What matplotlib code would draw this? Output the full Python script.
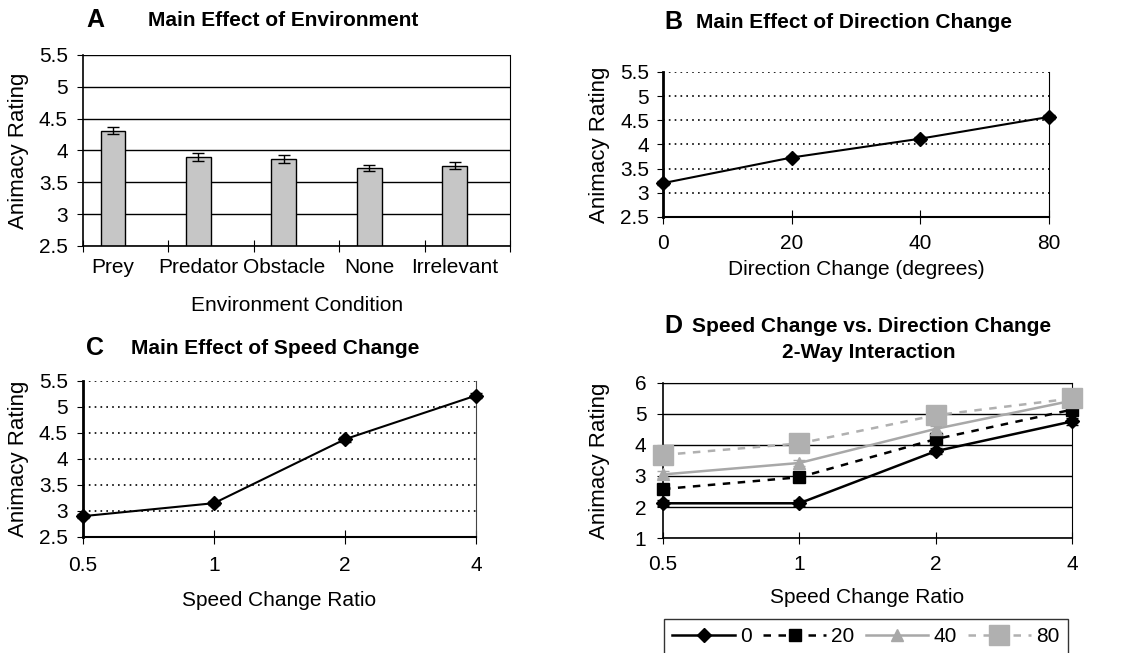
import numpy as np
import matplotlib.pyplot as plt

plt.rcParams['font.family'] = ['Liberation Sans', 'DejaVu Sans']

# panel A data
env_conditions = ['Prey', 'Predator', 'Obstacle', 'None', 'Irrelevant']
env_means = [4.31, 3.90, 3.87, 3.73, 3.76]
env_err = [0.055, 0.06, 0.06, 0.045, 0.055]

# panel B data
dir_labels = ['0', '20', '40', '80']
dir_means = [3.20, 3.73, 4.12, 4.57]
dir_err = [0.04, 0.04, 0.04, 0.04]

# panel C data
speed_labels = ['0.5', '1', '2', '4']
speed_means = [2.90, 3.15, 4.38, 5.22]
speed_err = [0.04, 0.04, 0.05, 0.04]

# panel D data (one series per direction change)
inter_series = ['0', '20', '40', '80']
inter_0 = [2.12, 2.12, 3.80, 4.76]
inter_20 = [2.58, 2.96, 4.19, 5.14]
inter_40 = [3.05, 3.42, 4.52, 5.43]
inter_80 = [3.68, 4.05, 4.96, 5.50]
inter_err = [0.1, 0.1, 0.1, 0.1]

FS = 15

fig = plt.figure(figsize=(11.3, 6.53), dpi=100)

# ---------------- A ----------------
axA = fig.add_axes([0.0735, 0.6233, 0.3779, 0.2925])
xA = np.arange(len(env_conditions)) - 0.15
axA.set_axisbelow(True)
axA.yaxis.grid(True, color='black', linewidth=1.0)
axA.bar(xA, env_means, width=0.29, color='#c6c6c6', edgecolor='black', linewidth=1.0,
        yerr=env_err, capsize=4, error_kw=dict(elinewidth=1, capthick=1))
axA.set_xlim(-0.5, 4.5)
axA.set_ylim(2.5, 5.5)
axA.set_yticks([2.5, 3, 3.5, 4, 4.5, 5, 5.5])
axA.set_yticklabels(['2.5', '3', '3.5', '4', '4.5', '5', '5.5'])
axA.set_xticks(np.arange(-0.5, 5.0, 1.0))
axA.set_xticklabels([])
axA.set_xticks(xA, minor=True)
axA.set_xticklabels(env_conditions, minor=True)
axA.tick_params(axis='x', which='major', direction='inout', length=8)
axA.tick_params(axis='x', which='minor', length=0, pad=9)
axA.tick_params(axis='y', direction='out', length=4, pad=7)
axA.tick_params(which='both', labelsize=FS)
axA.spines['top'].set_visible(False)
axA.spines['left'].set_linewidth(1.2)
axA.spines['bottom'].set_linewidth(1.2)
axA.set_ylabel('Animacy Rating', fontsize=FS + 1, labelpad=7)
axA.set_xlabel('Environment Condition', fontsize=FS, labelpad=13)

# ---------------- B ----------------
axB = fig.add_axes([0.5867, 0.6677, 0.3416, 0.2221])
xB = np.arange(len(dir_labels))
axB.set_axisbelow(True)
axB.yaxis.grid(True, color='black', linestyle=(0, (1, 2.5)), linewidth=1.2)
axB.errorbar(xB, dir_means, yerr=dir_err, color='black', marker='D', markersize=7,
             linewidth=1.5, capsize=4, clip_on=False, zorder=3)
axB.set_xlim(0, 3)
axB.set_ylim(2.5, 5.5)
axB.set_yticks([2.5, 3, 3.5, 4, 4.5, 5, 5.5])
axB.set_yticklabels(['2.5', '3', '3.5', '4', '4.5', '5', '5.5'])
axB.set_xticks(xB)
axB.set_xticklabels(dir_labels)
axB.tick_params(axis='x', direction='inout', length=10, pad=7)
axB.tick_params(axis='y', direction='out', length=4, pad=6)
axB.tick_params(labelsize=FS)
axB.spines['top'].set_visible(False)
axB.spines['left'].set_linewidth(2)
axB.spines['bottom'].set_linewidth(1.5)
axB.set_ylabel('Animacy Rating', fontsize=FS + 1, labelpad=7)
axB.set_xlabel('Direction Change (degrees)', fontsize=FS, labelpad=5)

# ---------------- C ----------------
axC = fig.add_axes([0.0735, 0.1777, 0.3478, 0.2389])
xC = np.arange(len(speed_labels))
axC.set_axisbelow(True)
axC.yaxis.grid(True, color='black', linestyle=(0, (1, 2.5)), linewidth=1.2)
axC.errorbar(xC, speed_means, yerr=speed_err, color='black', marker='D', markersize=7,
             linewidth=1.5, capsize=4, clip_on=False, zorder=3)
axC.set_xlim(0, 3)
axC.set_ylim(2.5, 5.5)
axC.set_yticks([2.5, 3, 3.5, 4, 4.5, 5, 5.5])
axC.set_yticklabels(['2.5', '3', '3.5', '4', '4.5', '5', '5.5'])
axC.set_xticks(xC)
axC.set_xticklabels(speed_labels)
axC.tick_params(axis='x', direction='inout', length=10, pad=9)
axC.tick_params(axis='y', direction='out', length=4, pad=7)
axC.tick_params(labelsize=FS)
axC.spines['top'].set_visible(False)
axC.spines['left'].set_linewidth(2)
axC.spines['bottom'].set_linewidth(1.5)
axC.spines['right'].set_color('#444444')
axC.set_ylabel('Animacy Rating', fontsize=FS + 1, labelpad=7)
axC.set_xlabel('Speed Change Ratio', fontsize=FS, labelpad=11)

# ---------------- D ----------------
axD = fig.add_axes([0.5867, 0.1761, 0.362, 0.2374])
xD = np.arange(len(speed_labels))
axD.set_axisbelow(True)
axD.yaxis.grid(True, color='black', linewidth=1.0)
styles = [
    (inter_0, 'black', '-', 'D', 7),
    (inter_20, 'black', (0, (3, 3)), 's', 8),
    (inter_40, '#a8a8a8', '-', '^', 8),
    (inter_80, '#b0b0b0', (0, (3, 3)), 's', 15),
]
handles = []
for (vals, col, ls, mk, ms), name in zip(styles, inter_series):
    axD.errorbar(xD, vals, yerr=inter_err, color=col, linestyle='none', capsize=4,
                 clip_on=False, zorder=2)
    h, = axD.plot(xD, vals, color=col, linestyle=ls, linewidth=1.8, marker=mk,
                  markersize=ms, clip_on=False, zorder=3, label=name)
    handles.append(h)
axD.set_xlim(0, 3)
axD.set_ylim(1, 6)
axD.set_yticks([1, 2, 3, 4, 5, 6])
axD.set_xticks(xD)
axD.set_xticklabels(speed_labels)
axD.tick_params(axis='x', direction='inout', length=8, pad=8)
axD.tick_params(axis='y', direction='out', length=4, pad=8)
axD.tick_params(labelsize=FS)
axD.spines['left'].set_linewidth(1.2)
axD.spines['bottom'].set_linewidth(1.2)
axD.set_ylabel('Animacy Rating', fontsize=FS + 1, labelpad=18)
axD.set_xlabel('Speed Change Ratio', fontsize=FS, labelpad=10)

leg = fig.legend(handles=handles, labels=inter_series, loc='upper left',
                 bbox_to_anchor=(664 / 1130, 1 - 619 / 653), ncol=4, fontsize=FS,
                 frameon=True, fancybox=False, edgecolor='black', handlelength=3.0,
                 handletextpad=0.25, columnspacing=0.55, borderpad=0.4,
                 borderaxespad=0, markerfirst=True)
leg.get_frame().set_linewidth(1.0)

# ---------------- titles ----------------
def panel_title(letter, lx, tx, ty, text):
    fig.text(lx / 1130, 1 - ty / 653, letter, fontsize=18, fontweight='bold',
             ha='left', va='center')
    fig.text(tx / 1130, 1 - ty / 653, text, fontsize=FS, fontweight='bold',
             ha='center', va='center')

panel_title('A', 86, 283, 20, 'Main Effect of Environment')
panel_title('B', 664, 854, 22, 'Main Effect of Direction Change')
panel_title('C', 86, 275, 348, 'Main Effect of Speed Change')
panel_title('D', 664, 872, 326, 'Speed Change vs. Direction Change')
fig.text(869 / 1130, 1 - 352 / 653, '2-Way Interaction', fontsize=FS,
         fontweight='bold', ha='center', va='center')

fig.savefig('out.png', dpi=100)
